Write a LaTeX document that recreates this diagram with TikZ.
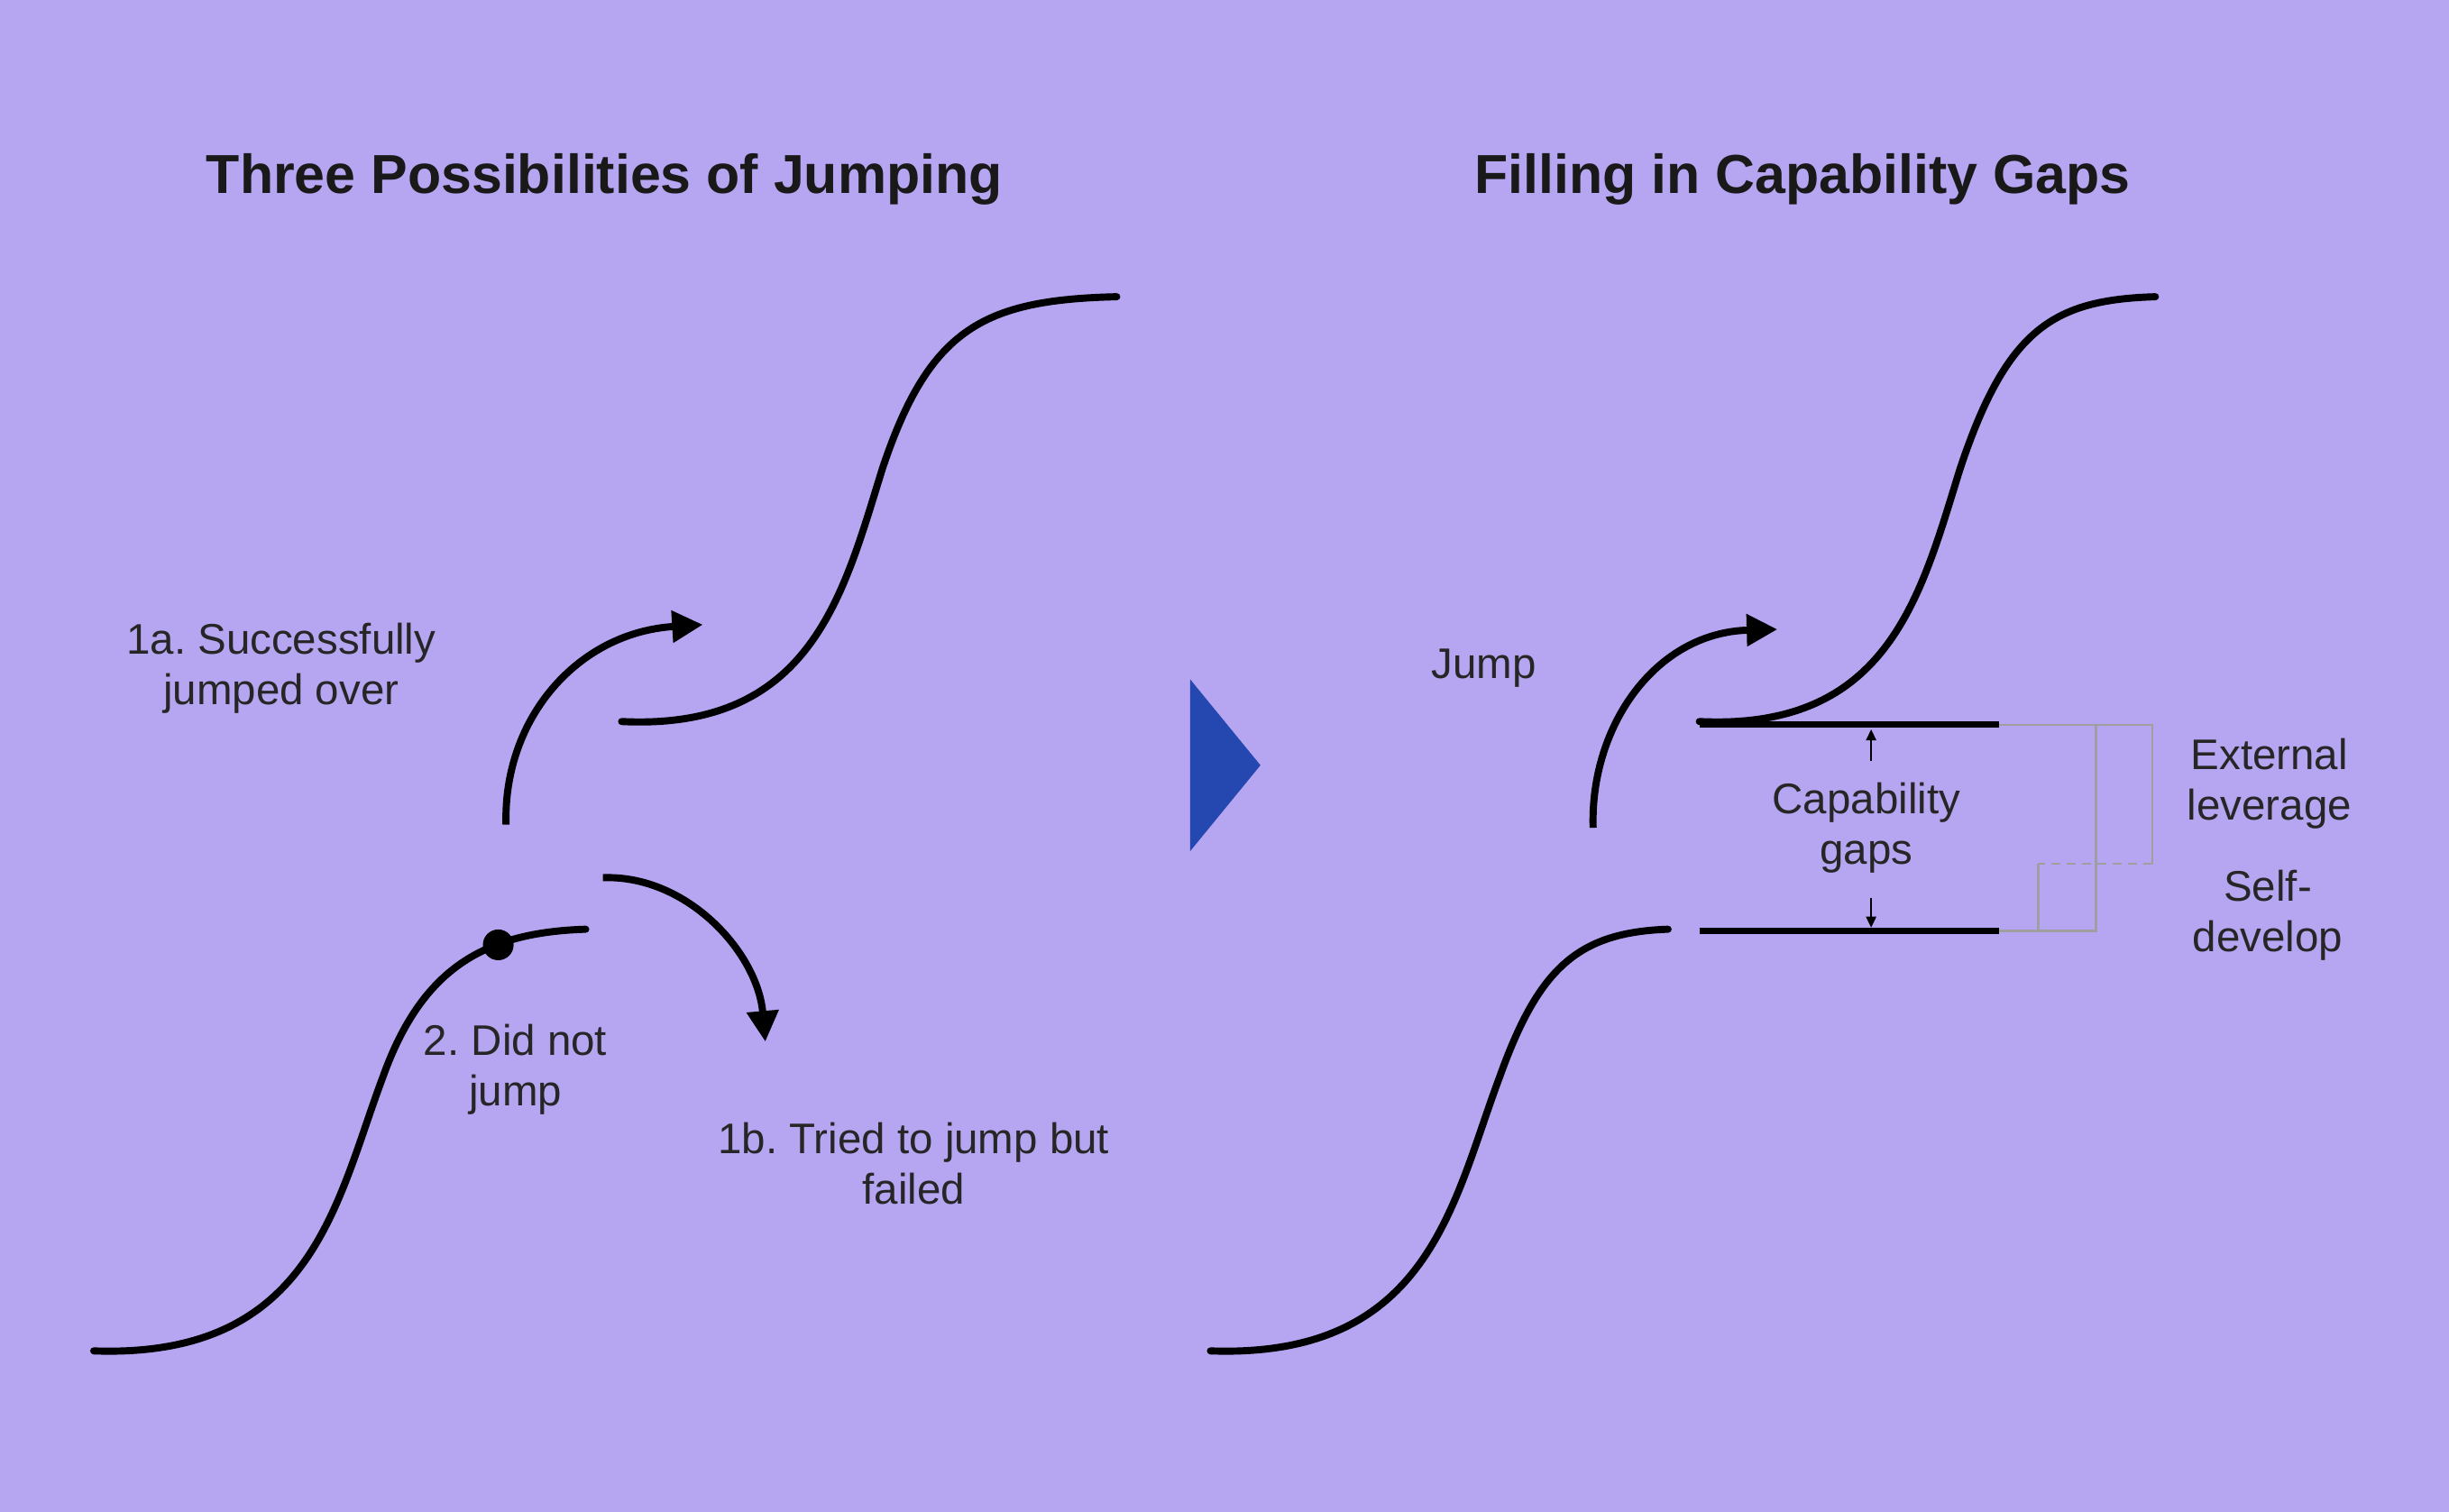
\documentclass[tikz,border=0pt]{standalone}
\usepackage{fontspec}
\setmainfont{Liberation Sans}
\frenchspacing
\usetikzlibrary{arrows.meta}
\definecolor{bg}{HTML}{B6A5F0}
\definecolor{tri}{HTML}{2447B0}
\tikzset{curve/.style={line width=6.5pt,line cap=round},
 jumparrow/.style={line width=6.5pt,-{Triangle[length=28pt,width=28pt]}},
 gapline/.style={line width=5.5pt},
 gray/.style={draw=gray!75,line width=2pt},
 lbl/.style={font=\fontsize{39}{46}\selectfont,align=center,text=black!85},
 ttl/.style={font=\bfseries\fontsize{50}{60}\selectfont,text=black!90}}
\begin{document}
\begin{tikzpicture}[x=0.05cm,y=-0.05cm]
\fill[bg] (0,0) rectangle (1568,968);
\useasboundingbox (0,0) rectangle (1568,968);
\node[ttl] (t1) at (387,115) {Three Possibilities of Jumping};
\node[ttl] (t2) at (1154,115) {Filling in Capability Gaps};
% left curves
\draw[curve] (60,865) .. controls (200,870) and (215,770) .. (245,690) .. controls (270,620) and (310,597) .. (375,595);
\draw[curve] (398,462) .. controls (520,468) and (540,380) .. (565,300) .. controls (595,210) and (630,192) .. (715,190);
\node[circle,fill=black,minimum size=28pt,inner sep=0] (dot) at (319,605) {};
\coordinate (a1s) at (324,528); \coordinate (a1e) at (450,400);
\draw[jumparrow] (a1s) .. controls (322,460) and (370,405) .. (a1e);
\coordinate (a2s) at (386,562); \coordinate (a2e) at (490,667);
\draw[jumparrow] (a2s) .. controls (440,560) and (485,610) .. (a2e);
\node[lbl] (l1a) at (180,428) {1a. Successfully\\jumped over};
\node[lbl] (l2) at (330,685) {2. Did not\\jump};
\node[lbl] (l1b) at (585,745) {1b. Tried to jump but\\failed};
% triangle
\fill[tri] (762,435) -- (807,490) -- (762,545) -- cycle;
% right curves
\draw[curve] (775,865) .. controls (915,870) and (930,770) .. (960,690) .. controls (985,620) and (1010,597) .. (1068,595);
\draw[curve] (1088,462) .. controls (1210,468) and (1230,380) .. (1255,300) .. controls (1285,210) and (1315,192) .. (1380,190);
\coordinate (a3s) at (1020,530); \coordinate (a3e) at (1138,403);
\draw[jumparrow] (a3s) .. controls (1018,465) and (1060,405) .. (a3e);
\node[lbl] (jump) at (950,428) {Jump};
\coordinate (g1a) at (1088,464); \coordinate (g1b) at (1280,464);
\coordinate (g2a) at (1088,596); \coordinate (g2b) at (1280,596);
\draw[gapline] (g1a) -- (g1b);
\draw[gapline] (g2a) -- (g2b);
\draw[line width=2pt,-{Triangle[length=10pt,width=9pt]}] (1198,487) -- (1198,467);
\draw[line width=2pt,-{Triangle[length=10pt,width=9pt]}] (1198,575) -- (1198,594);
\node[lbl] (cap) at (1195,530) {Capability\\gaps};
\draw[gray] (g1b) -- (1378,464) -- (1378,553);
\draw[gray,dash pattern=on 8pt off 6pt] (1378,553) -- (1305,553);
\draw[gray] (1305,553) -- (1305,596);
\draw[gray] (1342,464) -- (1342,596) -- (g2b);
\node[lbl] (ext) at (1453,502) {External\\leverage};
\node[lbl] (self) at (1452,586) {Self-\\develop};
\end{tikzpicture}
\end{document}
